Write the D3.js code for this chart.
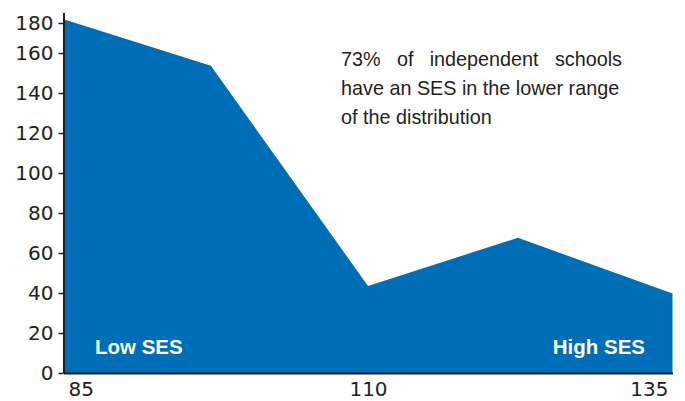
<!DOCTYPE html>
<html>
<head>
<meta charset="utf-8">
<script src="https://cdn.jsdelivr.net/npm/d3@7"></script>
<style>
  html, body { margin: 0; padding: 0; background: #fff; }
  svg { display: block; }
</style>
</head>
<body>
<svg id="chart" width="685" height="401"></svg>
<script>
// ---- data ----
const sesScores = [85, 97.1, 110, 122.3, 135];
const schoolCounts = [182.5, 153.6, 43.5, 67.6, 39.8];
const yTickValues = [0, 20, 40, 60, 80, 100, 120, 140, 160, 180];
const xTickValues = [85, 110, 135];
const annotationLines = [
  "73% of independent schools",
  "have an SES in the lower range",
  "of the distribution"
];
const endLabels = ["Low SES", "High SES"];

// ---- layout ----
const svg = d3.select("#chart");
const ink = "#231f20";
const fill = "#006db7";

const x = d3.scaleLinear().domain([85, 135]).range([63.5, 672.5]);
const y = d3.scaleLinear().domain([0, 160, 187]).range([373, 53, 12.5]);

const data = sesScores.map((s, i) => ({ s, v: schoolCounts[i] }));

const area = d3.area()
  .x(d => x(d.s))
  .y0(y(0))
  .y1(d => y(d.v));

svg.append("path")
  .datum(data)
  .attr("d", area)
  .attr("fill", fill);

// y axis
const yAxis = svg.append("g")
  .attr("transform", `translate(${x(85)},0)`)
  .call(d3.axisLeft(y).tickValues(yTickValues).tickSize(5).tickPadding(5).tickSizeOuter(0));
yAxis.select(".domain").attr("stroke", ink).attr("stroke-width", 2);
yAxis.selectAll(".tick line").attr("stroke", ink).attr("stroke-width", 1.5);
yAxis.selectAll(".tick text")
  .attr("fill", ink)
  .style("font-family", "'DejaVu Sans', sans-serif")
  .style("font-size", "20px");

// x axis
const xAxis = svg.append("g")
  .attr("transform", `translate(0,${y(0)})`)
  .call(d3.axisBottom(x).tickValues(xTickValues).tickSize(0).tickPadding(9).tickSizeOuter(0));
xAxis.select(".domain").attr("stroke", ink).attr("stroke-width", 1.8);
xAxis.selectAll(".tick text")
  .attr("fill", ink)
  .style("font-family", "'DejaVu Sans', sans-serif")
  .style("font-size", "20px")
  .attr("text-anchor", (d, i, n) => i === 0 ? "start" : (i === n.length - 1 ? "end" : "middle"))
  .attr("dx", (d, i, n) => i === 0 ? 4.5 : (i === n.length - 1 ? -4.5 : 0));

// end labels
svg.append("text")
  .attr("x", 95).attr("y", 353.5)
  .attr("fill", "#fff")
  .style("font-family", "'Liberation Sans', Arial, sans-serif")
  .style("font-size", "20.5px").style("font-weight", "bold")
  .text(endLabels[0]);
svg.append("text")
  .attr("x", 645).attr("y", 353.5)
  .attr("text-anchor", "end")
  .attr("fill", "#fff")
  .style("font-family", "'Liberation Sans', Arial, sans-serif")
  .style("font-size", "20.5px").style("font-weight", "bold")
  .text(endLabels[1]);

// annotation
const ann = svg.append("g");
const annX = 341, annRight = 622, baselines = [66, 95.2, 124.4];
annotationLines.forEach((line, i) => {
  const t = ann.append("text")
    .attr("x", annX).attr("y", baselines[i])
    .attr("fill", ink)
    .style("font-family", "'Liberation Sans', Arial, sans-serif")
    .style("font-size", "19.8px")
    .text(line);
  if (i === 0) {
    const natural = t.node().getComputedTextLength();
    const gaps = line.split(" ").length - 1;
    t.style("word-spacing", ((annRight - annX - natural) / gaps) + "px");
  }
});
</script>
</body>
</html>
